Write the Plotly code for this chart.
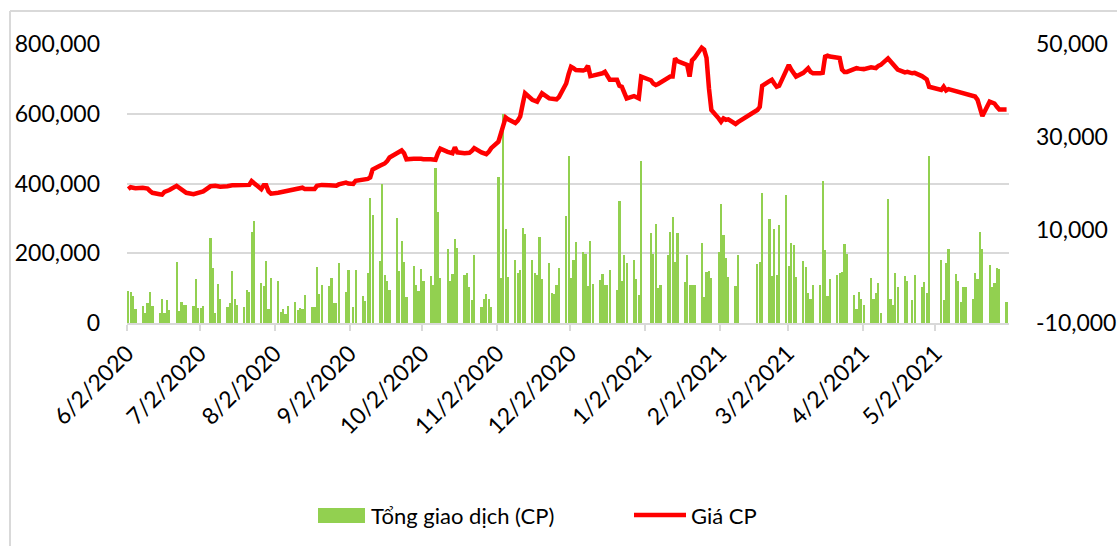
import pandas as pd
import plotly.graph_objects as go

# Trading days (weekdays minus market holidays)
start_date = "2020-06-02"
end_date = "2021-05-31"
holidays = ["2020-09-02", "2021-01-01", "2021-02-10", "2021-02-11", "2021-02-12",
            "2021-02-15", "2021-02-16", "2021-04-21", "2021-04-30", "2021-05-03"]

volume = [
    92000, 88000, 77000, 41000,
    50000, 30000, 56000, 89000, 49000,
    30000, 68000, 30000, 66000, 37000,
    175000, 34000, 59000, 51000, 51000,
    49000, 126000, 44000, 44000, 49000,
    245000, 157000, 30000, 113000, 68000,
    47000, 56000, 150000, 69000, 53000,
    47000, 94000, 90000, 260000, 292000,
    115000, 106000, 177000, 41000, 128000,
    120000, 32000, 39000, 26000, 50000,
    60000, 37000, 44000, 39000, 80000,
    46000, 46000, 161000, 83000, 110000,
    106000, 130000, 56000, 56000, 172000,
    89000, 153000, 47000, 153000,
    77000, 63000, 142000, 359000, 311000,
    177000, 399000, 137000, 121000, 96000,
    302000, 150000, 236000, 174000, 75000,
    163000, 109000, 92000, 156000, 121000,
    134000, 110000, 444000, 319000, 129000,
    211000, 120000, 140000, 242000, 216000,
    137000, 142000, 102000, 66000, 196000,
    47000, 70000, 83000, 70000, 47000,
    418000, 129000, 599000, 270000, 132000,
    182000, 142000, 153000, 273000, 256000,
    182000, 144000, 137000, 248000, 127000,
    172000, 87000, 83000, 109000, 158000,
    306000, 480000, 130000, 180000, 233000,
    205000, 199000, 107000, 235000, 113000,
    123000, 140000, 110000, 110000, 153000,
    94000, 351000, 121000, 196000, 172000,
    180000, 125000, 80000, 464000,
    258000, 199000, 285000, 99000, 110000,
    194000, 261000, 304000, 175000, 258000,
    118000, 196000, 109000, 109000, 110000,
    229000, 75000, 147000, 149000, 129000,
    204000, 342000, 251000, 185000, 132000,
    107000, 194000,
    168000, 175000, 372000,
    297000, 134000, 270000, 137000, 280000,
    366000, 163000, 229000, 223000, 132000,
    178000, 161000, 85000, 70000, 110000,
    109000, 406000, 208000, 77000, 126000,
    137000, 142000, 147000, 226000, 199000,
    80000, 39000, 88000, 68000, 51000,
    128000, 70000, 85000, 116000, 28000,
    355000, 70000, 51000, 142000, 104000,
    134000, 121000, 66000, 137000,
    104000, 118000, 85000, 480000,
    180000, 66000, 172000, 213000,
    140000, 121000, 61000, 104000, 104000,
    69000, 142000, 125000, 261000, 211000,
    166000, 104000, 116000, 159000, 156000,
    61000,
]

price = [
    18800, 19200, 19100, 19000,
    19100, 19000, 18900, 18400, 18000,
    17700, 17600, 18200, 18300, 18600,
    19500, 19100, 18800, 18400, 18000,
    17700, 17800, 18000, 18100, 18300,
    19400, 19500, 19500, 19400, 19300,
    19400, 19600, 19600, 19600, 19600,
    19700, 19700, 19700, 20500, 20000,
    18800, 19600, 19600, 18300, 17800,
    18000, 18100, 18200, 18300, 18400,
    18600, 18800, 18900, 19100, 18800,
    18800, 18800, 19500, 19600, 19700,
    19600, 19500, 19500, 19500, 19800,
    20200, 20000, 19900, 20600,
    20800, 20800, 21000, 21300, 23000,
    23800, 24000, 24300, 24800, 25600,
    26500, 26800, 27100, 26500, 25200,
    25300, 25400, 25300, 25300, 25200,
    25200, 25100, 25100, 26500, 27500,
    26800, 26600, 26500, 27800, 26700,
    26500, 26500, 26600, 27000, 27600,
    26700, 26500, 26300, 26800, 27600,
    29000, 31000, 32500, 34200, 33800,
    33000, 33500, 34400, 37000, 39400,
    38000, 37700, 37600, 38500, 39400,
    38300, 38300, 38300, 38100, 38600,
    41500, 43500, 45100, 44800, 44400,
    44300, 44500, 45300, 43100, 43200,
    43500, 43700, 44000, 43000, 42300,
    42300, 41000, 40800, 39400, 38300,
    38800, 38500, 38300, 43000,
    42200, 41500, 41200, 41400, 41700,
    42500, 43000, 43000, 46900, 46300,
    45600, 45500, 43000, 46500, 47000,
    49200, 48800, 47000, 40500, 35800,
    34000, 33300, 34000, 33700, 33800,
    32800, 33200,
    35800, 36500, 41000,
    42000, 42300, 41500, 40800, 41000,
    44500, 45500, 44500, 43700, 43000,
    43800, 44500, 44800, 44000, 43700,
    43700, 43800, 47300, 47500, 47300,
    47100, 47000, 44500, 44000, 44000,
    44600, 44800, 44700, 44600, 44600,
    45000, 44900, 44800, 45300, 45500,
    46900, 46300, 45500, 45100, 44500,
    43900, 44000, 43700, 43800,
    43100, 42800, 42400, 40800,
    40100, 40800, 40000, 40300,
    39900, 39600, 39500, 39400, 39400,
    39000, 38700, 38000, 36200, 34500,
    37600, 37500, 37200, 36500, 35900,
    35900,
]

x_tick_vals = ["2020-06-02", "2020-07-02", "2020-08-02", "2020-09-02", "2020-10-02",
               "2020-11-02", "2020-12-02", "2021-01-02", "2021-02-02", "2021-03-02",
               "2021-04-02", "2021-05-02"]
x_tick_text = ["6/2/2020", "7/2/2020", "8/2/2020", "9/2/2020", "10/2/2020",
               "11/2/2020", "12/2/2020", "1/2/2021", "2/2/2021", "3/2/2021",
               "4/2/2021", "5/2/2021"]
y1_ticks = [0, 200000, 400000, 600000, 800000]
y1_text = ["0", "200,000", "400,000", "600,000", "800,000"]
y2_ticks = [-10000, 10000, 30000, 50000]
y2_text = ["-10,000", "10,000", "30,000", "50,000"]

series_names = ["Tổng giao dịch (CP)", "Giá CP"]

days = pd.bdate_range(start_date, end_date)
days = days[~days.isin(pd.to_datetime(holidays))]
xpos = days + pd.Timedelta(hours=12)

GREEN = "#92D050"
RED = "#FF0000"
GRID = "#D9D9D9"
FONT = "Lato, Noto Sans, sans-serif"
TICK_SIZE = 23

fig = go.Figure()
fig.add_trace(go.Bar(x=xpos, y=volume, name=series_names[0], marker_color=GREEN,
                     marker_line_width=0, width=86400000 * 0.9, yaxis="y",
                     showlegend=False))
fig.add_trace(go.Scatter(x=xpos, y=price, name=series_names[1], mode="lines",
                         line=dict(color=RED, width=4.5), yaxis="y2",
                         showlegend=False))

W, H = 1117, 546
L, R, T, B = 127, 108, 44, 223
pw, ph = W - L - R, H - T - B

def px(xp):
    return (xp - L) / pw

def py(yp):
    return (H - B - yp) / ph

shapes = [
    # chart border (left and top)
    dict(type="line", xref="paper", yref="paper", x0=px(10), x1=px(10), y0=py(11), y1=py(H + 5),
         line=dict(color=GRID, width=2)),
    dict(type="line", xref="paper", yref="paper", x0=px(10), x1=px(W + 5), y0=py(11), y1=py(11),
         line=dict(color=GRID, width=2)),
    # legend symbols
    dict(type="rect", xref="paper", yref="paper", x0=px(318), x1=px(365), y0=py(523), y1=py(508),
         fillcolor=GREEN, line=dict(width=0)),
    dict(type="line", xref="paper", yref="paper", x0=px(634), x1=px(686), y0=py(515), y1=py(515),
         line=dict(color=RED, width=4.5)),
]
annotations = [
    dict(text=series_names[0], xref="paper", yref="paper", x=px(369), y=py(515),
         xanchor="left", yanchor="middle", showarrow=False,
         font=dict(family=FONT, size=22, color="#000000")),
    dict(text=series_names[1], xref="paper", yref="paper", x=px(689), y=py(515),
         xanchor="left", yanchor="middle", showarrow=False,
         font=dict(family=FONT, size=22, color="#000000")),
]

fig.update_layout(
    width=W, height=H,
    margin=dict(l=L, r=R, t=T, b=B, pad=0, autoexpand=False),
    paper_bgcolor="white", plot_bgcolor="white",
    font=dict(family=FONT, size=TICK_SIZE, color="#000000"),
    bargap=0,
    xaxis=dict(type="date", range=["2020-06-02", "2021-06-01 12:00"],
               tickvals=x_tick_vals, ticktext=x_tick_text, tickangle=-45,
               showgrid=False, showline=True, linecolor=GRID, linewidth=1.5,
               ticks="outside", ticklen=6, tickcolor=GRID, tickwidth=1.5,
               automargin=False,
               tickfont=dict(family=FONT, size=TICK_SIZE, color="#000000")),
    yaxis=dict(range=[0, 800000], tickvals=y1_ticks, ticktext=y1_text,
               showgrid=True, gridcolor=GRID, gridwidth=1.5, zeroline=False,
               showline=False, ticks="", ticklabelstandoff=26, automargin=False,
               tickfont=dict(family=FONT, size=TICK_SIZE, color="#000000")),
    yaxis2=dict(range=[-10000, 50000], tickvals=y2_ticks, ticktext=y2_text,
                overlaying="y", side="right", showgrid=False, zeroline=False,
                showline=False, ticks="", ticklabelstandoff=26, automargin=False,
                tickfont=dict(family=FONT, size=TICK_SIZE, color="#000000")),
    shapes=shapes,
    annotations=annotations,
)

fig.write_html("out.html", config={"displayModeBar": False},
               post_script="document.body.style.margin='0';")
